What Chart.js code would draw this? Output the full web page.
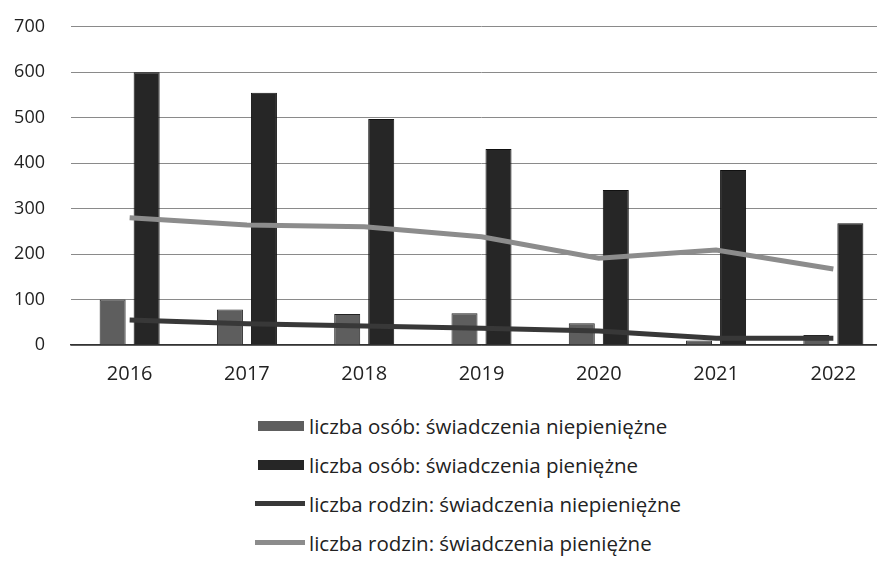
<!DOCTYPE html>
<html>
<head>
<meta charset="utf-8">
<script src="https://cdn.jsdelivr.net/npm/chart.js@4.4.1/dist/chart.umd.min.js"></script>
<style>
  html, body { margin: 0; padding: 0; background: #fff; overflow: hidden; }
  #wrap { position: relative; width: 892px; height: 413px; margin-top: -10px; }
  #legend { position: absolute; left: 255px; top: 406px; font-family: "Open Sans", sans-serif; font-size: 20.5px; color: #222; }
  #legend .item { display: flex; align-items: center; height: 39px; }
  #legend .mark { width: 50px; margin-right: 4px; }
</style>
</head>
<body>
<div id="wrap"><canvas id="chart" width="892" height="413"></canvas></div>
<div id="legend"></div>
<script>
const years = ['2016', '2017', '2018', '2019', '2020', '2021', '2022'];
const osobyNiepieniezne = [100, 78, 68, 70, 48, 10, 22];
const osobyPieniezne = [600, 555, 497, 431, 341, 385, 268];
const rodzinyNiepieniezne = [55, 47, 42, 37, 31, 15, 15];
const rodzinyPieniezne = [280, 264, 260, 238, 191, 209, 167];
const yTicks = [0, 100, 200, 300, 400, 500, 600, 700];

const ctx = document.getElementById('chart').getContext('2d');

const chart = new Chart(ctx, {
    type: 'bar',
    data: {
        labels: years,
        datasets: [
            {
                label: 'liczba osób: świadczenia niepieniężne',
                data: osobyNiepieniezne,
                backgroundColor: '#5e5e5e',
                borderColor: '#222222',
                borderWidth: 1,
                order: 2
            },
            {
                label: 'liczba osób: świadczenia pieniężne',
                data: osobyPieniezne,
                backgroundColor: '#262626',
                borderColor: '#111111',
                borderWidth: 1,
                order: 2
            },
            {
                type: 'line',
                label: 'liczba rodzin: świadczenia niepieniężne',
                data: rodzinyNiepieniezne,
                borderColor: '#383838',
                borderWidth: 5,
                pointRadius: 0,
                tension: 0,
                order: 1
            },
            {
                type: 'line',
                label: 'liczba rodzin: świadczenia pieniężne',
                data: rodzinyPieniezne,
                borderColor: '#8c8c8c',
                borderWidth: 5,
                pointRadius: 0,
                tension: 0,
                order: 1
            }
        ]
    },
    options: {
        responsive: false,
        animation: false,
        maintainAspectRatio: false,
        layout: { padding: { top: 7, right: 0, bottom: 0, left: 0 } },
        datasets: {
            bar: { categoryPercentage: 0.58, barPercentage: 0.765 }
        },
        plugins: {
            legend: { display: false },
            tooltip: { enabled: false }
        },
        scales: {
            x: {
                grid: { display: false, drawTicks: false },
                border: { display: true, color: '#333', width: 1.5 },
                ticks: {
                    color: '#222',
                    padding: 17,
                    maxRotation: 0,
                    autoSkip: false,
                    font: { family: 'Open Sans', size: 20 }
                }
            },
            y: {
                min: 0,
                max: 700,
                afterFit: (scale) => { scale.width = 71; },
                afterBuildTicks: (scale) => { scale.ticks = yTicks.map(v => ({ value: v })); },
                grid: { color: '#8a8a8a', lineWidth: 1, drawTicks: false },
                border: { display: false },
                ticks: {
                    color: '#222',
                    padding: 26,
                    font: { family: 'Open Sans', size: 18 }
                }
            }
        }
    }
});

// legend built from the chart's datasets, stacked vertically
const legend = document.getElementById('legend');
chart.data.datasets.forEach(ds => {
    const item = document.createElement('div');
    item.className = 'item';
    const mark = document.createElement('div');
    mark.className = 'mark';
    if (ds.type === 'line') {
        mark.style.height = '5px';
        mark.style.background = ds.borderColor;
    } else {
        mark.style.height = '10px';
        mark.style.background = ds.backgroundColor;
        mark.style.width = '46px';
        mark.style.marginLeft = '3px';
        mark.style.marginRight = '5px';
    }
    const text = document.createElement('span');
    text.textContent = ds.label;
    item.appendChild(mark);
    item.appendChild(text);
    legend.appendChild(item);
});
</script>
</body>
</html>
